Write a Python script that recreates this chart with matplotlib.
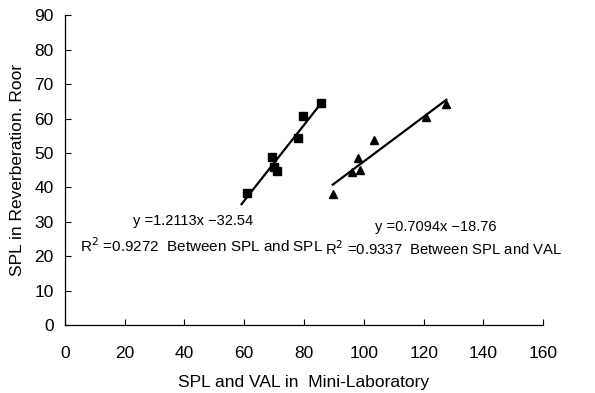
import matplotlib

matplotlib.use("Agg")
import matplotlib.pyplot as plt
import numpy as np

plt.rcParams["font.family"] = ["Liberation Sans", "DejaVu Sans"]

# SPL vs SPL (squares)
spl_x = [60.8, 69.4, 70.1, 70.9, 78.1, 79.8, 85.7]
spl_y = [38.3, 48.7, 45.8, 44.8, 54.3, 60.8, 64.6]
# SPL vs VAL (triangles)
val_x = [89.6, 96.0, 98.0, 98.7, 103.5, 120.8, 127.4]
val_y = [38.0, 44.6, 48.6, 45.0, 53.9, 60.5, 64.2]

xticks = list(range(0, 161, 20))
yticks = list(range(0, 91, 10))

eq_spl = "y =1.2113x \u221232.54"
r2_spl = "R$^2$ =0.9272  Between SPL and SPL"
eq_val = "y =0.7094x \u221218.76"
r2_val = "R$^2$ =0.9337  Between SPL and VAL"


def trend(ax, x, y, pad=0.0):
    k, b = np.polyfit(x, y, 1)
    xs = np.array([min(x) - pad, max(x) + 0.2])
    ax.plot(xs, k * xs + b, color="black", lw=1.6, zorder=2)


fig = plt.figure(figsize=(5.95, 3.93), dpi=100)
ax = fig.add_axes([0.109, 0.173, 0.804, 0.788])

ax.plot(spl_x, spl_y, ls="none", marker="s", ms=6, color="black", zorder=3)
ax.plot(val_x, val_y, ls="none", marker="^", ms=6, color="black", zorder=3)
trend(ax, spl_x, spl_y, pad=1.7)
trend(ax, val_x, val_y)

ax.text(22.8, 30.2, eq_spl, fontsize=10.5, va="center")
ax.text(5.0, 23.2, r2_spl, fontsize=11, va="center")
ax.text(103.8, 28.5, eq_val, fontsize=10.5, va="center")
ax.text(87.0, 22.1, r2_val, fontsize=10.7, va="center")

ax.set_xlim(0, 160)
ax.set_ylim(0, 90)
ax.set_xticks(xticks)
ax.set_yticks(yticks)
ax.tick_params(direction="in", length=4, width=0.8, labelsize=12.5)
ax.tick_params(axis="x", pad=15)
ax.tick_params(axis="y", pad=8)
for side in ("top", "right"):
    ax.spines[side].set_visible(False)
for side in ("left", "bottom"):
    ax.spines[side].set_linewidth(0.9)

ax.set_xlabel("SPL and VAL in  Mini-Laboratory", fontsize=12.5, labelpad=10)
ax.set_ylabel("SPL in Reverberation. Roor", fontsize=12.5, labelpad=7)

fig.savefig("out.png", dpi=100)
plt.close(fig)
